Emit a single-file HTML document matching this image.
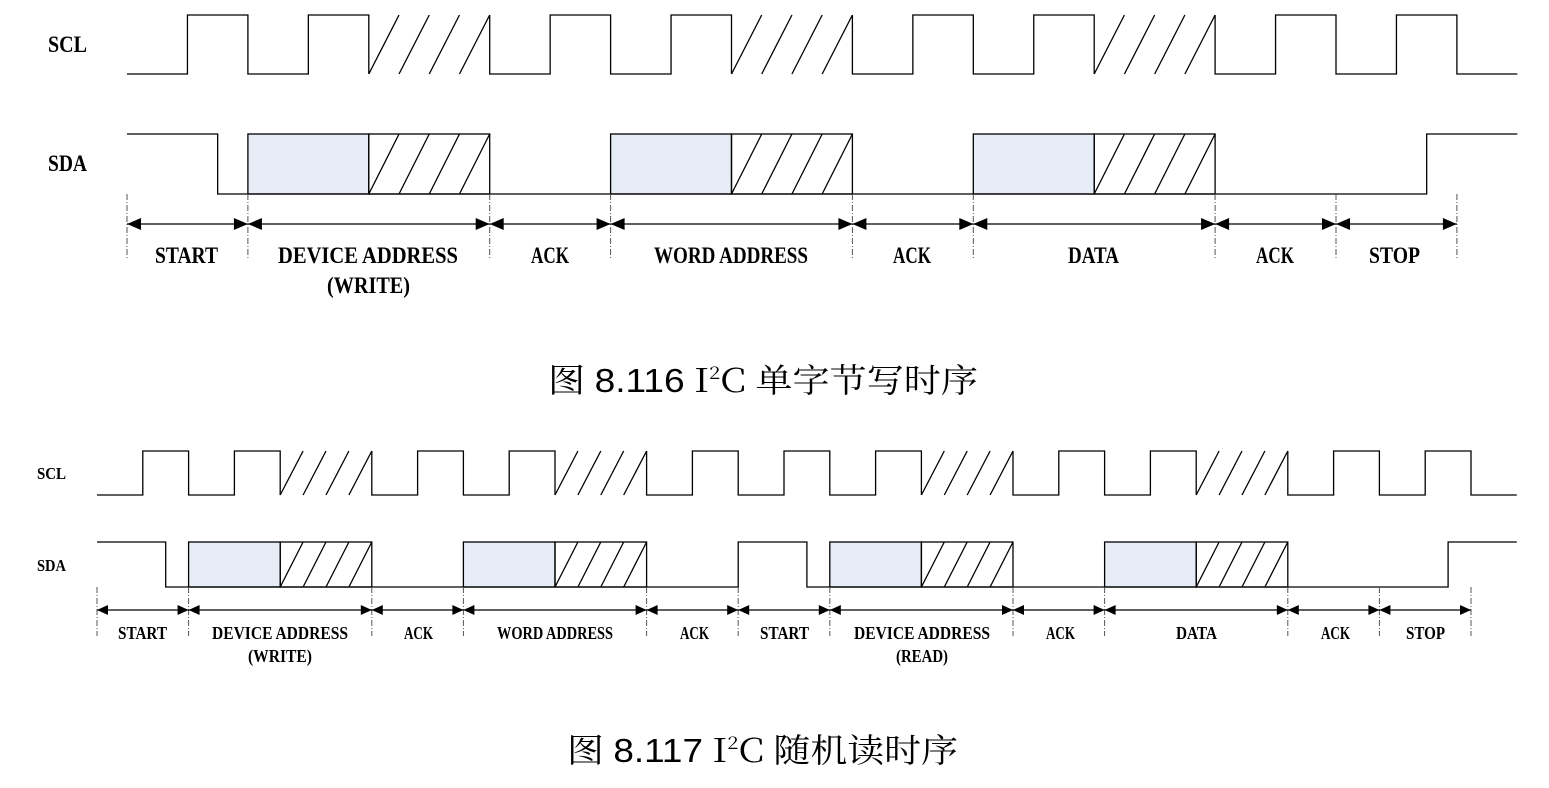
<!DOCTYPE html>
<html><head><meta charset="utf-8">
<style>
html,body{margin:0;padding:0;background:#fff;}
svg{display:block;}
.cap{font-family:"Noto Serif CJK SC","Liberation Serif",serif;font-size:33px;fill:#000;}
.num{font-family:"Liberation Sans","DejaVu Sans",sans-serif;}
.lbl{font-family:"Liberation Serif","Noto Serif CJK SC",serif;font-weight:bold;fill:#000;}
</style></head>
<body>
<svg id="s" width="1549" height="788" viewBox="0 0 1549 788" xmlns="http://www.w3.org/2000/svg">
<text class="cap" x="548" y="392" textLength="430" lengthAdjust="spacingAndGlyphs">图 <tspan class="num">8.116</tspan> I<tspan font-size="18" dy="-13">2</tspan><tspan dy="13">C 单字节写时序</tspan></text>
<text class="cap" x="567" y="762" textLength="391" lengthAdjust="spacingAndGlyphs">图 <tspan class="num">8.117</tspan> I<tspan font-size="18" dy="-13">2</tspan><tspan dy="13">C 随机读时序</tspan></text>
</svg>
<script>
var s=document.getElementById('s'),NS='http://www.w3.org/2000/svg';
function el(t,a,txt){var e=document.createElementNS(NS,t);for(var k in a)e.setAttribute(k,a[k]);if(txt)e.textContent=txt;s.appendChild(e);return e;}
function line(x1,y1,x2,y2,st){el('line',Object.assign({x1:x1,y1:y1,x2:x2,y2:y2,stroke:'#000','stroke-width':1.3},st||{}));}
function diagram(c){
 var X=function(k){return c.x0+k*c.h;};
 // SCL
 var hi=c.sh,lo=c.sl;
 var d='M'+X(0)+' '+lo;
 c.scl.forEach(function(seg){
   var a=X(seg[1]),b=X(seg[2]);
   if(seg[0]=='L'){d+=' L'+a+' '+lo+' L'+b+' '+lo;}
   else if(seg[0]=='H'){d+=' L'+a+' '+lo+' L'+a+' '+hi+' L'+b+' '+hi+' L'+b+' '+lo;}
   else {d+=' L'+a+' '+lo; var w=(b-a)/4; for(var i=0;i<4;i++){line(a+i*w,lo,a+(i+1)*w,hi);} d+=' M'+b+' '+hi+' L'+b+' '+lo;}
 });
 el('path',{d:d,fill:'none',stroke:'#000','stroke-width':1.3});
 // SDA
 var H=c.dh,L=c.dl;
 c.boxes.forEach(function(bx){
   var a=X(bx),m=X(bx+2),b=X(bx+4);
   el('rect',{x:a,y:H,width:m-a,height:L-H,fill:'#e6edf7',stroke:'#000','stroke-width':1.3});
   el('rect',{x:m,y:H,width:b-m,height:L-H,fill:'none',stroke:'#000','stroke-width':1.3});
   var w=(b-m)/4;for(var i=0;i<4;i++)line(m+i*w,L,m+(i+1)*w,H);
 });
 var p='M'+X(0)+' '+H;
 c.sda.forEach(function(q){p+=' L'+X(q[0])+' '+(q[1]?H:L);});
 el('path',{d:p,fill:'none',stroke:'#000','stroke-width':1.3});
 // lines between data: low segments
 // ticks & arrows
 c.ticks.forEach(function(k){line(X(k),c.t1,X(k),c.t2,{stroke:'#555','stroke-width':1,'stroke-dasharray':'6,2,1,2'});});
 var ay=c.ay,al=c.al,aw=c.aw;
 for(var i=0;i<c.ticks.length-1;i++){
   var a=X(c.ticks[i]),b=X(c.ticks[i+1]);
   line(a,ay,b,ay,{'stroke-width':1.2});
   el('polygon',{points:a+','+ay+' '+(a+al)+','+(ay-aw)+' '+(a+al)+','+(ay+aw),fill:'#000'});
   el('polygon',{points:b+','+ay+' '+(b-al)+','+(ay-aw)+' '+(b-al)+','+(ay+aw),fill:'#000'});
 }
 c.labels.forEach(function(l){el('text',{'class':'lbl',x:l[0],y:l[1],'font-size':c.fs,textLength:l[3],lengthAdjust:'spacingAndGlyphs'},l[2]);});
}
// top
diagram({x0:127,h:60.45,sh:15,sl:74,dh:134,dl:194,
 scl:[['L',0,1],['H',1,2],['L',2,3],['H',3,4],['X',4,6],['L',6,7],['H',7,8],['L',8,9],['H',9,10],['X',10,12],['L',12,13],['H',13,14],['L',14,15],['H',15,16],['X',16,18],['L',18,19],['H',19,20],['L',20,21],['H',21,22],['L',22,23]],
 boxes:[2,8,14],
 sda:[[1.5,1],[1.5,0],[21.5,0],[21.5,1],[23,1]],
 ticks:[0,2,6,8,12,14,18,20,22],t1:194,t2:258,ay:224,al:14,aw:6,fs:23,
 labels:[[155,263,'START',63],[278,263,'DEVICE ADDRESS',180],[327,293,'(WRITE)',83],[531,263,'ACK',38],[654,263,'WORD ADDRESS',154],[893,263,'ACK',38],[1068,263,'DATA',51],[1256,263,'ACK',38],[1369,263,'STOP',51]]});
// bottom
diagram({x0:97,h:45.8,sh:451,sl:495,dh:542,dl:587,
 scl:[['L',0,1],['H',1,2],['L',2,3],['H',3,4],['X',4,6],['L',6,7],['H',7,8],['L',8,9],['H',9,10],['X',10,12],['L',12,13],['H',13,14],['L',14,15],['H',15,16],['L',16,17],['H',17,18],['X',18,20],['L',20,21],['H',21,22],['L',22,23],['H',23,24],['X',24,26],['L',26,27],['H',27,28],['L',28,29],['H',29,30],['L',30,31]],
 boxes:[2,8,16,22],
 sda:[[1.5,1],[1.5,0],[14,0],[14,1],[15.5,1],[15.5,0],[29.5,0],[29.5,1],[31,1]],
 ticks:[0,2,6,8,12,14,16,20,22,26,28,30],t1:587,t2:636,ay:610,al:11,aw:5,fs:18,
 labels:[[118,639,'START',49],[212,639,'DEVICE ADDRESS',136],[248,662,'(WRITE)',64],[404,639,'ACK',29],[497,639,'WORD ADDRESS',116],[680,639,'ACK',29],[760,639,'START',49],[854,639,'DEVICE ADDRESS',136],[896,662,'(READ)',52],[1046,639,'ACK',29],[1176,639,'DATA',41],[1321,639,'ACK',29],[1406,639,'STOP',39]]});
el('text',{'class':'lbl',x:48,y:52,'font-size':23,textLength:39,lengthAdjust:'spacingAndGlyphs','font-weight':'normal'},'SCL');
el('text',{'class':'lbl',x:48,y:171,'font-size':23,textLength:39,lengthAdjust:'spacingAndGlyphs','font-weight':'normal'},'SDA');
el('text',{'class':'lbl',x:37,y:479,'font-size':17,textLength:29,lengthAdjust:'spacingAndGlyphs'},'SCL');
el('text',{'class':'lbl',x:37,y:571,'font-size':17,textLength:29,lengthAdjust:'spacingAndGlyphs'},'SDA');
</script>
</body></html>
